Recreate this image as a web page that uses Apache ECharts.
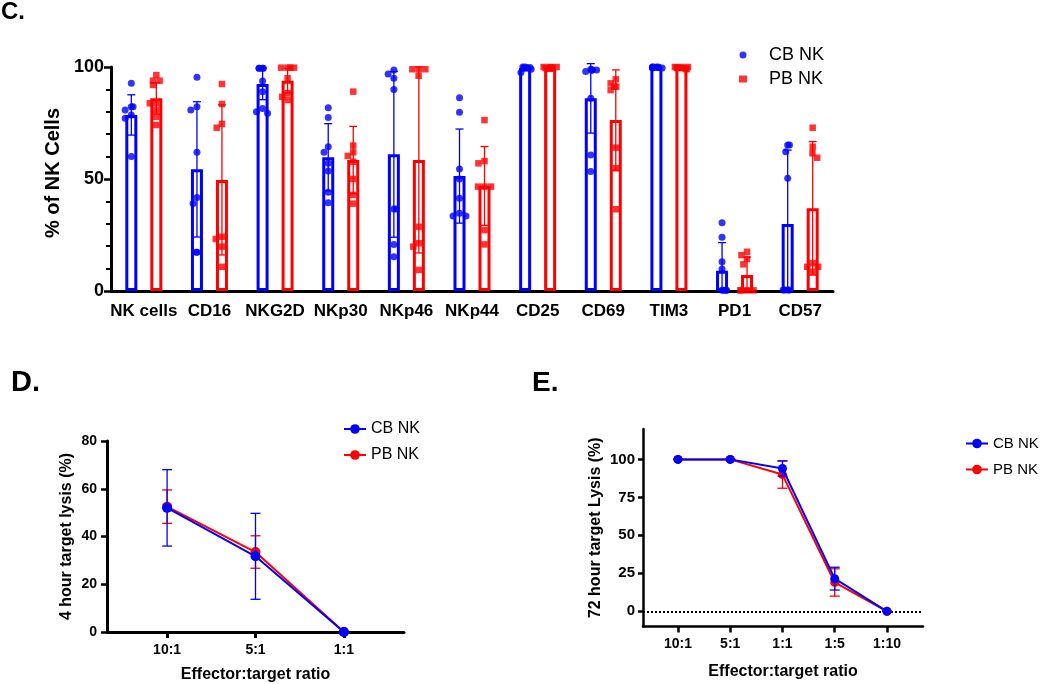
<!DOCTYPE html>
<html><head><meta charset="utf-8">
<script src="https://cdn.jsdelivr.net/npm/echarts@6/dist/echarts.min.js"></script>
<style>html,body{margin:0;padding:0;background:#fff}#c{width:1050px;height:684px}</style>
</head><body><div id="c"></div>
<script>
// ---------- Panel C data ----------
const markers = ['NK cells','CD16','NKG2D','NKp30','NKp46','NKp44','CD25','CD69','TIM3','PD1','CD57'];
const cbMean = [78.6, 54.3, 92.4, 59.7, 61.0, 51.3, 99.6, 86.0, 99.8, 9.0, 29.9];
const pbMean = [86.0, 49.6, 93.9, 58.5, 58.5, 46.9, 99.7, 76.3, 99.7, 7.1, 36.9];
const cbSD = [9, 30.2, 7, 15, 37, 21, 0.8, 15.5, 0.2, 12.6, 33];
const pbSD = [7, 33.5, 5.5, 15, 41.5, 17.6, 0.3, 22.4, 0.4, 8, 29.8];
const cbPoints = [
  [92.7, 82.3, 82.3, 80.8, 78.6, 77.1, 60.0],
  [95.4, 82.3, 80.8, 61.9, 41.7, 39.1, 17.3, 17.3],
  [99.4, 99.4, 99.4, 99.4, 93.8, 89.0, 81.5, 80.0, 79.3],
  [81.8, 77.5, 64.4, 61.9, 57.0, 53.6, 44.1, 39.4],
  [98.7, 96.9, 95.0, 90.0, 36.6, 36.6, 20.8, 15.3],
  [86.3, 79.8, 54.5, 50.0, 41.4, 34.7, 33.5, 33.5],
  [100, 100, 99.8, 99.6, 99.5, 99.3, 99.0, 97.5],
  [99.0, 98.7, 98.7, 98.5, 98.0, 86.0, 60.7, 53.3],
  [100, 100, 100, 100, 99.8, 99.8, 99.6, 99.5],
  [30.5, 24.0, 13.1, 9.8, 0.3, 0.3, 0.3, 0.3],
  [65.2, 65.2, 62.2, 50.3, 0.5, 0.5, 0.5, 0.5]
];
const pbPoints = [
  [96.4, 93.9, 93.9, 92.0, 83.8, 83.8, 80.8, 77.8, 74.1],
  [92.4, 83.5, 74.6, 72.9, 24.2, 23.2, 19.8, 10.8],
  [99.7, 99.7, 99.7, 99.7, 95.0, 88.3, 86.7, 85.3],
  [89.0, 64.9, 61.9, 60.3, 57.7, 50.0, 42.9, 39.0],
  [99.0, 99.0, 99.0, 96.1, 28.7, 21.3, 19.8, 9.4],
  [76.3, 58.0, 57.0, 46.6, 46.6, 46.6, 27.2, 20.8],
  [100, 100, 100, 99.8, 99.6, 99.5, 99.4, 99.2],
  [94.5, 92.7, 91.2, 91.2, 89.7, 64.0, 54.8, 36.5],
  [100, 100, 100, 99.8, 99.6, 99.5, 99.3, 99.0],
  [17.5, 16.0, 14.3, 11.9, 0.3, 0.3, 0.3, 0.3],
  [72.9, 64.4, 61.5, 59.5, 12.4, 10.8, 10.8, 8.6]
];

// ---------- Panel D data ----------
const dRatios = ['10:1', '5:1', '1:1'];
const dCbMean = [52.0, 31.7, 0];
const dCbSD = [16, 18, 0];
const dPbMean = [52.5, 33.5, 0];
const dPbSD = [7, 6.8, 0];

// ---------- Panel E data ----------
const eRatios = ['10:1', '5:1', '1:1', '1:5', '1:10'];
const eCbMean = [100, 100, 94, 21.5, 0];
const eCbSD = [0, 0, 5, 7.5, 0];
const ePbMean = [100, 100, 90, 19, 0];
const ePbSD = [0, 0, 9, 9, 0];
const eTicks = [0, 25, 50, 75, 100];

// ---------- helpers ----------
const FONT = 'Liberation Sans, Arial, sans-serif';
const BLUE = '#0000ff', RED = '#ff0000', BLACK = '#000';

function scatterData(groups) {
  const out = [];
  groups.forEach((g, i) => g.forEach(v => out.push([i, v])));
  return out;
}
function errData(means, sds) { return means.map((m, i) => [i, m, sds[i]]); }
function lineData(means) { return means.map((m, i) => [i, m]); }
function errRender(color, capHalf, lw, floor) {
  return function (params, api) {
    const x = api.value(0), m = api.value(1), sd = api.value(2);
    let lowV = m - sd;
    if (floor !== null && lowV < floor) lowV = floor;
    const hi = api.coord([x, m + sd]);
    const lo = api.coord([x, lowV]);
    const st = { stroke: color, lineWidth: lw, fill: null };
    return { type: 'group', children: [
      { type: 'line', shape: { x1: hi[0], y1: hi[1], x2: lo[0], y2: lo[1] }, style: st },
      { type: 'line', shape: { x1: hi[0] - capHalf, y1: hi[1], x2: hi[0] + capHalf, y2: hi[1] }, style: st },
      { type: 'line', shape: { x1: lo[0] - capHalf, y1: lo[1], x2: lo[0] + capHalf, y2: lo[1] }, style: st }
    ]};
  };
}
const legendLabel = n => (n.indexOf('cb') === 0 ? 'CB NK' : 'PB NK');
const legendName = n => legendLabel(n);
const legendNameC = n => '{t|' + legendLabel(n) + '}';
const boldLabel = (size, margin) => ({ color: BLACK, fontSize: size, fontWeight: 'bold', fontFamily: FONT, margin: margin });
const axLine = w => ({ show: true, onZero: false, lineStyle: { color: BLACK, width: w } });

const chart = echarts.init(document.getElementById('c'));
const gC = { top: 67, width: 722, height: 224 };

const option = {
  animation: false,
  textStyle: { fontFamily: FONT },
  title: [
    { text: 'C.', left: 1, top: 0, padding: 0, textStyle: { fontSize: 24, fontWeight: 'bold', color: BLACK, fontFamily: FONT } },
    { text: 'D.', left: 11, top: 368, padding: 0, textStyle: { fontSize: 29, fontWeight: 'bold', color: BLACK, fontFamily: FONT } },
    { text: 'E.', left: 532, top: 369, padding: 0, textStyle: { fontSize: 28, fontWeight: 'bold', color: BLACK, fontFamily: FONT } }
  ],
  legend: [
    { data: ['cbC', 'pbC'], orient: 'vertical', left: 734, top: 41, itemWidth: 8, itemHeight: 7, itemGap: 6,
      formatter: legendNameC, selectedMode: false,
      textStyle: { fontSize: 18, color: BLACK, fontFamily: FONT,
        rich: { t: { fontSize: 18, color: BLACK, fontFamily: FONT, padding: [0, 0, 0, 17] } } } },
    { data: ['cbD', 'pbD'], orient: 'vertical', left: 338, top: 416, itemWidth: 22, itemHeight: 12, itemGap: 10,
      formatter: legendName, textStyle: { fontSize: 16, color: BLACK, fontFamily: FONT }, selectedMode: false },
    { data: ['cbE', 'pbE'], orient: 'vertical', left: 960, top: 431, itemWidth: 22, itemHeight: 12, itemGap: 11,
      formatter: legendName, textStyle: { fontSize: 15, color: BLACK, fontFamily: FONT }, selectedMode: false }
  ],
  grid: [
    Object.assign({ left: 111 }, gC),
    Object.assign({ left: 98.5 }, gC),
    Object.assign({ left: 123.5 }, gC),
    { left: 107, top: 441, width: 297, height: 191 },
    { left: 643, top: 429, width: 280, height: 197.5 }
  ],
  xAxis: [
    { gridIndex: 0, type: 'category', data: markers, axisLine: axLine(3),
      axisTick: { alignWithLabel: true, length: 7, lineStyle: { color: BLACK, width: 3 } },
      axisLabel: Object.assign({ interval: 0 }, boldLabel(17, 12)), splitLine: { show: false } },
    { gridIndex: 1, type: 'category', data: markers, show: false, jitter: 13, jitterOverlap: false, jitterMargin: 0 },
    { gridIndex: 2, type: 'category', data: markers, show: false, jitter: 13, jitterOverlap: false, jitterMargin: 0 },
    { gridIndex: 3, type: 'value', min: -0.68, max: 2.68, axisLine: axLine(3), splitLine: { show: false },
      axisTick: { show: true, customValues: dRatios.map((_, i) => i), length: 6, lineStyle: { color: BLACK, width: 3 } },
      axisLabel: Object.assign({ customValues: dRatios.map((_, i) => i), formatter: v => dRatios[Math.round(v)] }, boldLabel(14, 11)),
      name: 'Effector:target ratio', nameLocation: 'middle', nameGap: 35,
      nameTextStyle: { fontSize: 16, fontWeight: 'bold', color: BLACK, fontFamily: FONT } },
    { gridIndex: 4, type: 'value', min: -0.67, max: 4.69, axisLine: axLine(2.5), splitLine: { show: false },
      axisTick: { show: true, customValues: eRatios.map((_, i) => i), length: 6, lineStyle: { color: BLACK, width: 2.5 } },
      axisLabel: Object.assign({ customValues: eRatios.map((_, i) => i), formatter: v => eRatios[Math.round(v)] }, boldLabel(14, 11)),
      name: 'Effector:target ratio', nameLocation: 'middle', nameGap: 37,
      nameTextStyle: { fontSize: 16, fontWeight: 'bold', color: BLACK, fontFamily: FONT } }
  ],
  yAxis: [
    { gridIndex: 0, type: 'value', min: 0, max: 100, interval: 50, axisLine: axLine(3), splitLine: { show: false },
      axisTick: { show: true, length: 7, lineStyle: { color: BLACK, width: 2.5 } },
      minorTick: { show: true, splitNumber: 5, length: 5, lineStyle: { color: BLACK, width: 2 } },
      minorSplitLine: { show: false },
      axisLabel: boldLabel(18, 7),
      name: '% of NK Cells', nameLocation: 'middle', nameGap: 40,
      nameTextStyle: { fontSize: 20, fontWeight: 'bold', color: BLACK, fontFamily: FONT, padding: [0, 0, 0, 12] } },
    { gridIndex: 1, type: 'value', min: 0, max: 100, show: false, splitLine: { show: false } },
    { gridIndex: 2, type: 'value', min: 0, max: 100, show: false, splitLine: { show: false } },
    { gridIndex: 3, type: 'value', min: 0, max: 80, interval: 20, axisLine: axLine(3), splitLine: { show: false },
      axisTick: { show: true, length: 6, lineStyle: { color: BLACK, width: 2.5 } },
      axisLabel: boldLabel(14, 10),
      name: '4 hour target lysis (%)', nameLocation: 'middle', nameGap: 32,
      nameTextStyle: { fontSize: 16, fontWeight: 'bold', color: BLACK, fontFamily: FONT } },
    { gridIndex: 4, type: 'value', min: -10, max: 120, axisLine: axLine(2.5), splitLine: { show: false },
      axisTick: { show: true, customValues: eTicks, length: 5, lineStyle: { color: BLACK, width: 2.5 } },
      axisLabel: Object.assign({ customValues: eTicks }, boldLabel(15, 8)),
      name: '72 hour target Lysis (%)', nameLocation: 'middle', nameGap: 39,
      nameTextStyle: { fontSize: 16, fontWeight: 'bold', color: BLACK, fontFamily: FONT } }
  ],
  series: [
    // Panel C bars
    { type: 'bar', name: 'cbBar', xAxisIndex: 1, yAxisIndex: 1, data: cbMean, barWidth: 12, z: 2,
      itemStyle: { color: '#fff', borderColor: BLUE, borderWidth: 3 } },
    { type: 'bar', name: 'pbBar', xAxisIndex: 2, yAxisIndex: 2, data: pbMean, barWidth: 12, z: 2,
      itemStyle: { color: '#fff', borderColor: RED, borderWidth: 3 } },
    { type: 'custom', name: 'cbErrC', xAxisIndex: 1, yAxisIndex: 1, data: errData(cbMean, cbSD), z: 3, clip: false,
      renderItem: errRender(BLUE, 4, 1.3, 0) },
    { type: 'custom', name: 'pbErrC', xAxisIndex: 2, yAxisIndex: 2, data: errData(pbMean, pbSD), z: 3, clip: false,
      renderItem: errRender(RED, 4, 1.3, 0) },
    { type: 'scatter', name: 'cbC', xAxisIndex: 1, yAxisIndex: 1, data: scatterData(cbPoints), z: 4,
      symbol: 'circle', symbolSize: 7, itemStyle: { color: BLUE } },
    { type: 'scatter', name: 'pbC', xAxisIndex: 2, yAxisIndex: 2, data: scatterData(pbPoints), z: 4,
      symbol: 'rect', symbolSize: 6.5, itemStyle: { color: RED } },
    // Panel D
    { type: 'line', name: 'pbD', xAxisIndex: 3, yAxisIndex: 3, data: lineData(dPbMean), z: 2,
      symbol: 'circle', symbolSize: 10, lineStyle: { color: RED, width: 2 }, itemStyle: { color: RED } },
    { type: 'custom', name: 'pbErrD', xAxisIndex: 3, yAxisIndex: 3, data: errData(dPbMean, dPbSD), z: 3,
      renderItem: errRender(RED, 5, 1.3, null) },
    { type: 'line', name: 'cbD', xAxisIndex: 3, yAxisIndex: 3, data: lineData(dCbMean), z: 4,
      symbol: 'circle', symbolSize: 10, lineStyle: { color: BLUE, width: 2 }, itemStyle: { color: BLUE } },
    { type: 'custom', name: 'cbErrD', xAxisIndex: 3, yAxisIndex: 3, data: errData(dCbMean, dCbSD), z: 5,
      renderItem: errRender(BLUE, 5, 1.3, null) },
    // Panel E
    { type: 'line', name: 'pbE', xAxisIndex: 4, yAxisIndex: 4, data: lineData(ePbMean), z: 2,
      symbol: 'circle', symbolSize: 9, lineStyle: { color: RED, width: 2 }, itemStyle: { color: RED } },
    { type: 'custom', name: 'pbErrE', xAxisIndex: 4, yAxisIndex: 4, data: errData(ePbMean, ePbSD), z: 3,
      renderItem: errRender(RED, 5, 1.3, null) },
    { type: 'line', name: 'cbE', xAxisIndex: 4, yAxisIndex: 4, data: lineData(eCbMean), z: 4,
      symbol: 'circle', symbolSize: 9, lineStyle: { color: BLUE, width: 2 }, itemStyle: { color: BLUE },
      markLine: { silent: true, symbol: 'none', label: { show: false },
        lineStyle: { type: 'dotted', color: BLACK, width: 2 }, data: [{ yAxis: 0 }], z: 1 } },
    { type: 'custom', name: 'cbErrE', xAxisIndex: 4, yAxisIndex: 4, data: errData(eCbMean, eCbSD), z: 5,
      renderItem: errRender(BLUE, 5, 1.3, null) }
  ]
};
chart.setOption(option);
</script>
</body></html>
